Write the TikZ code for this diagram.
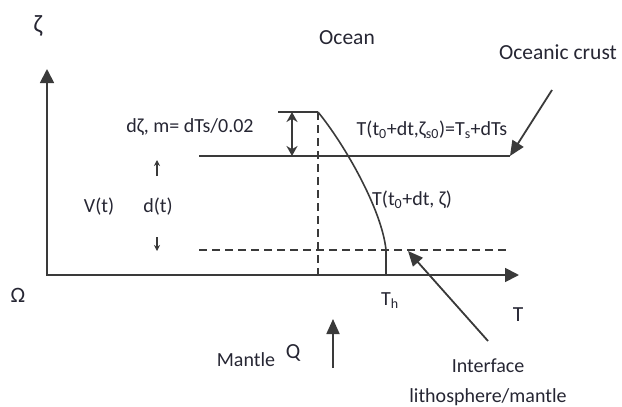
\documentclass[tikz,border=0pt]{standalone}
\usepackage{fontspec}
\setmainfont{Carlito}
\usetikzlibrary{arrows.meta}
\definecolor{ln}{HTML}{3A3A3A}
\definecolor{tx}{HTML}{262633}
\tikzset{
  lbl/.style={text=tx, inner sep=0pt, font=\fontsize{20}{24}\selectfont},
  big/.style={text=tx, inner sep=0pt, font=\fontsize{21.5}{26}\selectfont},
  solidline/.style={draw=ln, line width=1.8pt},
  dashline/.style={draw=ln, line width=1.8pt, dash pattern=on 8pt off 5pt},
  axisarrow/.style={draw=ln, line width=1.8pt, -{Triangle[length=14pt,width=14pt]}},
  ptrarrow/.style={draw=ln, line width=1.8pt, -{Triangle[length=15pt,width=13pt]}},
  smallarrow/.style={draw=ln, line width=1.2pt, -{Stealth[length=6pt,width=6pt]}},
  dblarrow/.style={draw=ln, line width=1.6pt, {Stealth[length=10pt,width=11pt]}-{Stealth[length=10pt,width=11pt]}}
}
\begin{document}
\begin{tikzpicture}[x=1pt,y=-1pt]
\useasboundingbox (0,0) rectangle (622,407);
% axes
\coordinate (O) at (47,275);
\coordinate (ytop) at (47,69);
\coordinate (xend) at (519,275);
\draw[axisarrow] (O) -- (ytop);
\draw[axisarrow] (46,275) -- (xend);
% crust line and top line
\coordinate (crL) at (199,156);
\coordinate (crR) at (510,156);
\draw[solidline] (crL) -- (crR);
\coordinate (topL) at (278,112);
\coordinate (topR) at (318,112);
\draw[solidline] (topL) -- (topR);
% dashed lines
\coordinate (vdB) at (318,275);
\draw[dashline] (topR) -- (vdB);
\coordinate (hdL) at (199,250);
\coordinate (hdR) at (506,250);
\draw[dashline] (hdL) -- (hdR);
% curve
\coordinate (cEnd) at (386,250);
\coordinate (cBot) at (386,275);
\draw[draw=ln, line width=1.6pt] (topR) .. controls (345,145) and (382,210) .. (cEnd) -- (cBot);
% double arrow
\coordinate (dA) at (292,112);
\coordinate (dB) at (292,156);
\draw[dblarrow] (dA) -- (dB);
% labels
\node[text=tx, inner sep=0pt, font=\fontsize{25}{28}\selectfont] (zeta) at (38,26) {ζ};
\node[text=tx, inner sep=0pt, font=\fontsize{22}{26}\selectfont] (omega) at (18,295) {Ω};
\node[lbl] (dz) at (190,127) {dζ, m= dTs/0.02};
\node[lbl] (Vt) at (99,207) {V(t)};
\node[lbl] (dt) at (158,207) {d(t)};
\coordinate (upA) at (157,176);
\coordinate (upB) at (157,160);
\draw[smallarrow] (upA) -- (upB);
\coordinate (dnA) at (157,237);
\coordinate (dnB) at (157,251);
\draw[smallarrow] (dnA) -- (dnB);
\node[big] (ocean) at (347,38) {Ocean};
\node[big] (crust) at (558,52) {Oceanic crust};
\node[lbl] (Tsurf) at (432,130) {T(t\textsubscript{0}+dt,ζ\textsubscript{s0})=T\textsubscript{s}+dTs};
\node[lbl, anchor=west] (Tz) at (372,200) {T(t\textsubscript{0}+dt, ζ)};
\node[lbl] (Th) at (390,301) {T\textsubscript{h}};
\node[big] (T) at (518,315) {T};
\node[lbl] (mantle) at (246,360) {Mantle};
\node[big] (Q) at (293,353) {Q};
\node[lbl] (iface) at (488,366) {Interface};
\node[lbl] (litho) at (488,397) {lithosphere/mantle};
% pointer arrows
\coordinate (crA) at (552,90);
\draw[ptrarrow] (crA) -- (crR);
\coordinate (ifA) at (488,341);
\coordinate (ifB) at (408,251);
\draw[ptrarrow] (ifA) -- (ifB);
\coordinate (qA) at (333,368);
\coordinate (qB) at (333,319);
\draw[ptrarrow] (qA) -- (qB);
\end{tikzpicture}
\end{document}
